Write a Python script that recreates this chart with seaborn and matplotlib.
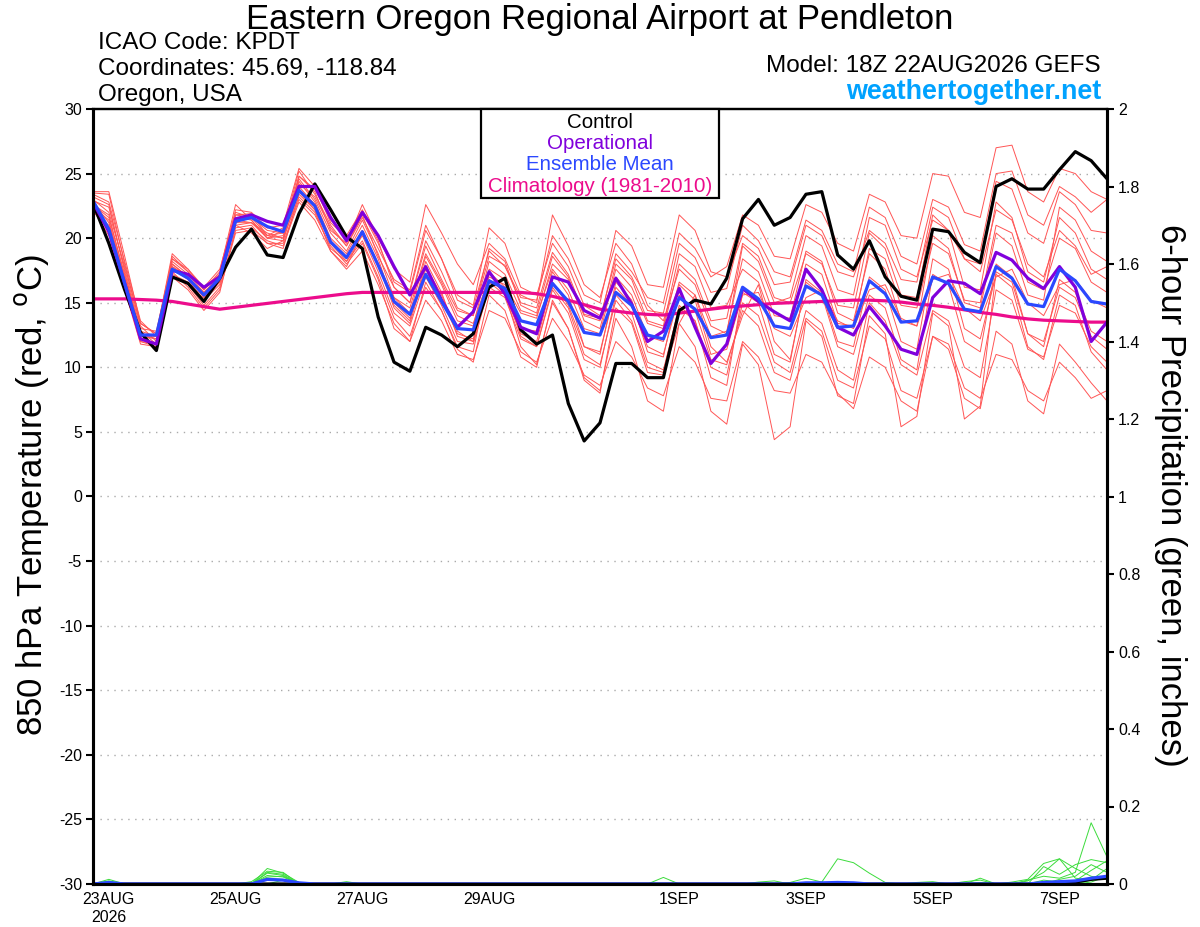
import matplotlib
matplotlib.use("Agg")
import matplotlib.pyplot as plt
import pandas as pd
import seaborn as sns

# GEFS 18Z 22AUG2026 run, 6-hourly steps out to 384 h
run_start = "2026-08-22 18:00"
n_steps = 65

control = [22.7, 19.6, 16.0, 12.7, 11.3, 17.0, 16.5, 15.1, 16.9, 19.3,
           20.7, 18.7, 18.5, 21.9, 24.2, 22.2, 20.1, 19.2, 13.9, 10.4,
           9.7, 13.1, 12.5, 11.6, 12.6, 16.2, 16.9, 12.9, 11.8, 12.5,
           7.2, 4.3, 5.7, 10.3, 10.3, 9.2, 9.2, 14.4, 15.2, 14.9,
           16.9, 21.5, 23.0, 21.0, 21.6, 23.4, 23.6, 18.7, 17.6, 19.8,
           17.0, 15.5, 15.2, 20.7, 20.5, 18.9, 18.1, 24.0, 24.6, 23.8,
           23.8, 25.3, 26.7, 26.0, 24.6]

operational = [22.8, 20.5, 16.5, 12.2, 11.8, 17.5, 17.2, 16.2, 17.0, 21.5,
               21.8, 21.3, 21.0, 24.0, 24.0, 21.6, 19.8, 22.0, 20.2, 17.8,
               15.6, 17.8, 15.2, 13.1, 14.3, 17.4, 15.7, 13.1, 12.6, 17.0,
               16.6, 14.4, 13.8, 16.9, 14.9, 12.0, 12.8, 16.1, 13.1, 10.3,
               11.8, 16.1, 15.1, 14.3, 13.6, 17.6, 16.0, 13.1, 12.5, 14.7,
               13.2, 11.4, 11.0, 15.4, 16.7, 16.5, 15.7, 18.9, 18.3, 16.9,
               16.1, 17.8, 16.2, 12.0, 13.5]

ens_mean = [22.9, 20.7, 16.5, 12.5, 12.5, 17.6, 16.9, 15.6, 16.9, 21.3,
            21.6, 20.9, 20.5, 23.7, 22.5, 19.7, 18.5, 20.5, 17.9, 15.1,
            14.1, 17.2, 15.1, 13.0, 12.9, 16.7, 16.1, 13.6, 13.3, 16.5,
            15.1, 12.7, 12.5, 15.8, 14.8, 12.5, 12.2, 15.4, 14.5, 12.3,
            12.5, 16.2, 15.3, 13.2, 13.0, 16.3, 15.6, 13.1, 13.2, 16.7,
            15.7, 13.5, 13.6, 17.0, 16.5, 14.5, 14.3, 17.8, 16.9, 14.9,
            14.7, 17.6, 16.7, 15.1, 14.9]

climatology = [15.3, 15.3, 15.3, 15.25, 15.2, 15.1, 14.9, 14.7, 14.5, 14.65,
               14.8, 14.95, 15.1, 15.25, 15.4, 15.55, 15.7, 15.8, 15.8, 15.8,
               15.8, 15.8, 15.8, 15.8, 15.8, 15.8, 15.8, 15.8, 15.7, 15.5,
               15.2, 14.85, 14.5, 14.35, 14.2, 14.1, 14.05, 14.2, 14.35, 14.5,
               14.65, 14.75, 14.85, 14.95, 15.0, 15.05, 15.1, 15.15, 15.2, 15.2,
               15.15, 15.05, 14.9, 14.8, 14.65, 14.45, 14.25, 14.1, 13.9, 13.75,
               13.65, 13.6, 13.55, 13.5, 13.5]

# individual perturbation members (thin red)
ens_members = [
    [23.5, 23.4, 18.0, 13.2, 12.0, 18.6, 17.4, 16.0, 17.4, 22.6, 21.4, 20.0, 20.6,
     25.2, 23.4, 21.0, 19.4, 21.8, 18.6, 16.2, 15.0, 19.4, 16.8, 14.4, 14.0,
     18.6, 17.9, 15.0, 14.6, 18.9, 17.2, 14.1, 13.8, 18.4, 17.0, 14.4, 14.2,
     19.6, 18.5, 15.8, 16.1, 21.0, 19.8, 17.4, 17.0, 21.4, 20.6, 18.0, 17.4,
     22.4, 21.6, 18.6, 18.0, 23.0, 22.4, 19.5, 19.0, 25.0, 25.2, 21.8, 21.0,
     24.0, 23.2, 22.0, 23.0],
    [22.2, 20.2, 16.2, 12.2, 12.4, 17.0, 16.4, 14.8, 16.2, 20.6, 20.8, 19.8, 19.4,
     22.8, 21.4, 19.0, 17.6, 19.0, 16.4, 13.4, 12.0, 15.2, 13.6, 11.0, 10.6,
     14.4, 13.8, 11.2, 10.4, 13.8, 12.0, 9.4, 8.6, 12.0, 10.8, 8.4, 7.8,
     11.6, 10.4, 7.6, 7.4, 12.0, 10.8, 8.2, 8.0, 11.0, 10.4, 8.0, 6.8,
     10.8, 10.0, 7.4, 6.6, 12.4, 11.8, 8.4, 7.6, 11.0, 10.6, 8.2, 7.4,
     10.4, 9.2, 7.6, 8.2],
    [22.6, 21.6, 17.2, 12.8, 11.8, 18.0, 17.0, 15.4, 16.6, 21.8, 21.9, 20.2, 20.0,
     24.4, 22.8, 20.0, 18.8, 21.0, 18.4, 14.8, 13.6, 18.2, 15.8, 12.4, 12.0,
     17.6, 16.8, 13.0, 12.8, 17.4, 15.6, 11.6, 11.0, 16.6, 15.2, 11.2, 10.8,
     16.4, 15.2, 11.0, 11.4, 15.6, 15.8, 13.0, 12.4, 15.4, 16.0, 13.6, 13.0,
     16.0, 16.4, 13.8, 13.2, 16.8, 17.2, 14.6, 13.6, 17.0, 17.6, 15.0, 14.0,
     16.4, 16.8, 15.2, 14.6],
    [23.0, 22.0, 17.8, 13.4, 12.6, 18.8, 17.6, 16.2, 17.2, 21.0, 20.4, 19.2, 19.8,
     24.8, 23.6, 20.6, 19.6, 22.6, 20.0, 17.6, 16.6, 22.6, 20.4, 18.0, 16.4,
     19.6, 18.4, 15.6, 15.0, 21.8, 19.4, 16.4, 15.4, 19.6, 18.0, 14.8, 13.6,
     17.6, 16.4, 13.2, 12.6, 19.4, 18.2, 15.0, 15.4, 20.2, 19.4, 16.0, 15.6,
     21.6, 21.0, 17.6, 17.0, 21.4, 20.6, 18.4, 17.4, 22.2, 21.4, 18.0, 17.0,
     20.6, 19.4, 17.2, 17.8],
    [22.4, 20.8, 16.4, 12.0, 11.6, 17.2, 16.6, 15.2, 16.4, 21.2, 21.2, 20.4, 20.0,
     23.2, 22.0, 19.2, 18.2, 19.8, 17.0, 13.8, 12.4, 16.2, 14.4, 11.4, 10.4,
     15.6, 14.4, 10.8, 10.0, 15.2, 13.0, 9.2, 8.2, 13.8, 11.6, 7.4, 6.6,
     13.4, 11.6, 6.6, 5.6, 11.8, 10.2, 4.4, 5.4, 13.6, 12.4, 7.8, 7.2,
     14.0, 12.6, 5.4, 6.2, 14.2, 13.2, 6.0, 7.0, 17.4, 16.6, 12.6, 12.0,
     16.2, 15.4, 12.4, 11.4],
    [22.8, 21.2, 17.0, 12.6, 12.2, 17.8, 17.0, 15.6, 16.8, 21.6, 21.6, 20.6, 20.4,
     23.8, 22.6, 19.8, 18.6, 20.6, 18.0, 15.4, 14.6, 18.8, 16.6, 14.0, 13.4,
     17.0, 16.4, 14.2, 13.8, 18.0, 16.8, 14.0, 13.6, 18.8, 17.4, 15.4, 15.0,
     20.4, 19.2, 17.0, 17.8, 21.8, 21.0, 18.6, 18.4, 22.6, 22.0, 19.6, 19.0,
     23.4, 22.8, 20.2, 20.0, 25.0, 24.8, 22.0, 21.6, 27.0, 27.2, 23.6, 22.8,
     25.4, 25.0, 23.6, 23.0],
    [22.0, 21.0, 16.8, 12.4, 12.2, 17.4, 16.2, 14.6, 16.0, 20.4, 20.6, 19.6, 19.2,
     23.4, 22.2, 19.6, 18.2, 20.2, 17.4, 14.2, 13.2, 17.0, 14.8, 12.0, 11.8,
     16.2, 15.4, 12.2, 11.6, 16.2, 14.6, 11.0, 10.2, 15.2, 13.6, 10.0, 9.6,
     14.8, 13.6, 10.0, 9.4, 15.0, 14.0, 10.4, 9.6, 14.4, 13.4, 9.8, 9.0,
     15.0, 13.6, 10.2, 9.4, 14.4, 13.6, 10.0, 9.2, 16.0, 15.2, 11.4, 10.8,
     14.8, 14.2, 11.6, 10.4],
    [23.2, 22.6, 17.4, 12.6, 12.4, 18.2, 17.2, 15.8, 17.0, 21.0, 21.2, 20.2, 20.4,
     24.6, 23.0, 20.4, 19.0, 21.4, 18.8, 15.4, 14.2, 18.6, 16.4, 13.6, 13.2,
     18.2, 17.2, 14.4, 14.0, 17.6, 16.0, 13.0, 12.6, 17.6, 16.2, 13.4, 13.0,
     18.0, 16.8, 13.6, 13.8, 19.6, 18.6, 15.4, 15.0, 18.8, 18.0, 14.8, 14.6,
     20.4, 19.2, 15.6, 15.4, 21.8, 20.6, 16.2, 16.0, 22.8, 21.6, 17.4, 16.6,
     21.6, 20.4, 17.6, 16.8],
    [22.4, 21.4, 16.6, 12.0, 11.8, 17.6, 16.8, 15.2, 16.6, 21.6, 21.4, 20.0, 19.8,
     23.6, 22.2, 19.0, 17.8, 20.4, 18.0, 15.0, 13.8, 17.8, 15.6, 12.8, 12.0,
     16.8, 15.8, 11.6, 10.2, 15.0, 13.0, 9.0, 8.0, 14.6, 13.4, 9.6, 9.4,
     13.4, 15.6, 11.6, 10.4, 14.0, 16.4, 12.0, 10.6, 16.6, 15.6, 11.6, 11.0,
     15.6, 14.6, 10.6, 9.8, 17.2, 16.4, 12.0, 11.2, 18.0, 17.0, 12.6, 11.6,
     16.8, 15.8, 12.8, 12.0],
    [23.6, 23.6, 18.6, 13.4, 12.6, 18.4, 17.6, 16.0, 17.2, 22.2, 22.0, 20.8, 21.0,
     25.4, 24.0, 21.2, 20.0, 22.0, 19.6, 16.6, 15.8, 20.6, 18.4, 15.6, 14.8,
     20.8, 19.6, 16.2, 15.6, 19.6, 17.8, 14.8, 14.0, 17.0, 15.6, 12.4, 12.0,
     16.6, 15.6, 12.4, 12.8, 18.4, 17.4, 14.0, 13.8, 19.0, 18.2, 14.2, 13.6,
     18.8, 17.6, 13.6, 13.2, 20.2, 19.2, 15.0, 14.6, 20.4, 19.4, 15.6, 15.2,
     22.4, 21.4, 19.0, 18.2],
    [22.6, 21.8, 17.0, 12.8, 12.4, 17.8, 17.0, 15.4, 16.8, 21.4, 21.2, 20.0, 20.2,
     24.0, 22.6, 19.8, 18.4, 20.6, 18.0, 14.6, 13.4, 17.6, 15.2, 12.6, 12.2,
     16.6, 15.6, 12.6, 12.0, 16.6, 14.8, 11.6, 11.2, 16.2, 14.8, 11.6, 11.0,
     15.6, 14.4, 10.6, 10.2, 14.4, 13.2, 9.6, 9.0, 13.8, 12.8, 9.0, 8.4,
     13.2, 12.2, 8.2, 7.6, 12.4, 11.4, 7.6, 6.8, 12.8, 11.8, 7.4, 6.4,
     11.8, 10.4, 8.8, 7.4],
    [22.9, 22.4, 17.6, 13.0, 12.8, 18.4, 17.4, 16.2, 17.6, 22.0, 21.6, 20.2, 20.8,
     24.2, 23.2, 20.8, 19.4, 21.6, 19.2, 16.8, 16.0, 21.0, 18.4, 15.2, 14.6,
     19.0, 17.8, 15.4, 15.2, 20.2, 18.4, 15.6, 15.0, 20.6, 19.4, 16.4, 16.2,
     21.8, 20.6, 17.4, 17.0, 20.2, 19.2, 16.4, 16.6, 21.0, 20.2, 17.4, 17.0,
     20.6, 19.6, 16.8, 16.6, 22.4, 21.6, 18.4, 18.0, 24.4, 23.8, 20.4, 19.6,
     23.6, 22.6, 20.6, 20.4],
    [22.2, 20.6, 16.0, 11.8, 11.6, 17.0, 16.0, 14.4, 15.8, 20.8, 21.0, 19.6, 19.6,
     23.0, 21.8, 19.4, 18.0, 19.6, 16.8, 13.0, 12.0, 16.6, 14.4, 11.6, 11.2,
     17.4, 16.2, 12.4, 11.6, 16.0, 14.2, 10.6, 10.0, 15.6, 14.2, 10.4, 9.8,
     14.6, 13.6, 9.2, 8.6, 15.8, 15.0, 11.0, 10.4, 16.8, 15.8, 12.0, 11.6,
     17.0, 16.0, 12.0, 11.4, 18.4, 17.6, 13.0, 12.2, 17.2, 16.2, 11.6, 10.6,
     15.6, 14.8, 11.2, 9.8],
    [23.4, 22.8, 18.2, 13.6, 12.4, 18.0, 17.0, 15.8, 17.0, 21.8, 21.6, 20.8, 20.6,
     24.8, 23.8, 21.4, 20.2, 22.2, 19.8, 16.2, 15.0, 19.8, 17.4, 14.6, 14.0,
     19.2, 18.2, 14.8, 14.2, 18.6, 17.0, 13.6, 13.0, 18.0, 16.8, 13.6, 13.2,
     18.8, 17.8, 14.6, 14.8, 17.6, 16.6, 13.2, 13.0, 18.0, 17.2, 13.4, 13.2,
     19.2, 18.4, 14.8, 14.6, 19.6, 18.8, 15.2, 15.0, 21.0, 20.4, 16.6, 16.0,
     20.0, 19.2, 16.6, 15.8],
]

# 6-hour precipitation, inches (green members, blue mean, black control)
precip_members = [
    [0, 0, 0, 0, 0, 0, 0, 0, 0, 0, 0, .03, .025, 0, 0, 0, 0, 0, 0, 0, 0, 0, 0, 0, 0,
     0, 0, 0, 0, 0, 0, 0, 0, 0, 0, 0, 0, 0, 0, 0, 0, 0, 0, 0, .004,
     .015, .005, .065, .055, .028, .004, 0, 0, 0, 0, 0, .004, 0, 0, 0,
     .01, .005, 0, .01, .02],
    [0, .012, 0, 0, 0, 0, 0, 0, 0, 0, 0, .04, .028, .004, 0, 0, 0, 0, 0, 0, 0, 0, 0, 0, 0,
     0, 0, 0, 0, 0, 0, 0, 0, 0, 0, 0, 0, 0, 0, 0, 0, 0, 0, 0, 0,
     0, 0, 0, 0, 0, 0, 0, 0, 0, 0, 0, 0, 0, 0, .01,
     .02, .015, .03, .158, .07],
    [0, .008, 0, 0, 0, 0, 0, 0, 0, 0, .006, .033, .03, 0, 0, 0, 0, 0, 0, 0, 0, 0, 0, 0, 0,
     0, 0, 0, 0, 0, 0, 0, 0, 0, 0, 0, .017, 0, 0, 0, 0, 0, 0, 0, 0,
     0, 0, 0, 0, 0, 0, 0, 0, 0, 0, 0, 0, 0, .005, .012,
     .053, .065, .015, .01, .04],
    [0, 0, 0, 0, 0, 0, 0, 0, 0, 0, 0, .028, .022, 0, 0, 0, .006, 0, 0, 0, 0, 0, 0, 0, 0,
     0, 0, 0, 0, 0, 0, 0, 0, 0, 0, 0, 0, 0, 0, 0, 0, 0, 0, 0, 0,
     0, 0, 0, 0, 0, 0, 0, 0, 0, 0, 0, .015, 0, 0, 0,
     .045, .025, .05, .063, .055],
    [0, 0, 0, 0, 0, 0, 0, 0, 0, 0, 0, .022, .018, 0, 0, 0, 0, 0, 0, 0, 0, 0, 0, 0, 0,
     0, 0, 0, 0, 0, 0, 0, 0, 0, 0, 0, 0, 0, 0, 0, 0, 0, 0, 0, 0,
     0, 0, 0, 0, 0, 0, 0, 0, 0, 0, 0, 0, 0, 0, .008,
     .03, .065, .04, .02, .012],
    [0, .005, 0, 0, 0, 0, 0, 0, 0, 0, 0, .015, .012, 0, 0, 0, 0, 0, 0, 0, 0, 0, 0, 0, 0,
     0, 0, 0, 0, 0, 0, 0, 0, 0, 0, 0, 0, 0, 0, 0, 0, 0, 0, 0, 0,
     0, 0, 0, 0, 0, 0, 0, 0, 0, 0, .006, .01, 0, 0, 0,
     0, .012, .02, .05, .03],
    [0, 0, 0, 0, 0, 0, 0, 0, 0, 0, 0, .018, .02, 0, 0, 0, 0, 0, 0, 0, 0, 0, 0, 0, 0,
     0, 0, 0, 0, 0, 0, 0, 0, 0, 0, 0, 0, 0, 0, 0, 0, 0, .005, .008, 0,
     0, 0, 0, 0, 0, 0, 0, 0, 0, 0, 0, 0, 0, 0, 0,
     0, 0, .008, .035, .06],
    [0, 0, 0, 0, 0, 0, 0, 0, 0, 0, 0, 0, .01, 0, 0, 0, 0, 0, 0, 0, 0, 0, 0, 0, 0,
     0, 0, 0, 0, 0, 0, 0, 0, 0, 0, 0, 0, 0, 0, 0, 0, 0, 0, 0, 0,
     0, 0, 0, 0, 0, 0, 0, .004, .006, 0, 0, 0, 0, 0, 0,
     0, 0, 0, .005, .02],
]

precip_mean = [0, .004, 0, 0, 0, 0, 0, 0, 0, 0, 0, .012, .01, .003, 0, 0, 0, 0, 0, 0, 0, 0, 0, 0, 0,
               0, 0, 0, 0, 0, 0, 0, 0, 0, 0, 0, 0, 0, 0, 0, 0, 0, 0, 0, 0,
               .003, .003, .004, .003, 0, 0, 0, 0, 0, 0, 0, 0, 0, 0, 0,
               .004, .006, .008, .015, .02]

precip_control = [0, 0, 0, 0, 0, 0, 0, 0, 0, 0, 0, 0, 0, 0, 0, 0, 0, 0, 0, 0, 0, 0, 0, 0, 0,
                  0, 0, 0, 0, 0, 0, 0, 0, 0, 0, 0, 0, 0, 0, 0, 0, 0, 0, 0, 0,
                  0, 0, 0, 0, 0, 0, 0, 0, 0, 0, 0, 0, 0, 0, 0,
                  0, 0, .005, .012, .015]

tick_days = ["2026-08-23", "2026-08-25", "2026-08-27", "2026-08-29",
             "2026-09-01", "2026-09-03", "2026-09-05", "2026-09-07"]
tick_labels = ["23AUG\n2026", "25AUG", "27AUG", "29AUG", "1SEP", "3SEP", "5SEP", "7SEP"]
temp_ticks = [30, 25, 20, 15, 10, 5, 0, -5, -10, -15, -20, -25, -30]
precip_ticks = [0, 0.2, 0.4, 0.6, 0.8, 1.0, 1.2, 1.4, 1.6, 1.8, 2.0]

c_member = "#ff5555"
c_oper = "#8000dc"
c_mean = "#2b48ff"
c_clim = "#ec0c8c"
c_green = "#3cdc3c"

sns.set_style("white")
plt.rcParams["font.family"] = ["Liberation Sans", "DejaVu Sans"]
plt.rcParams["text.color"] = "black"
plt.rcParams["axes.labelcolor"] = "black"
plt.rcParams["xtick.color"] = "black"
plt.rcParams["ytick.color"] = "black"

times = pd.date_range(run_start, periods=n_steps, freq="6h")

member_df = pd.DataFrame({
    "time": list(times) * len(ens_members),
    "temp": [v for m in ens_members for v in m],
    "member": [k for k, m in enumerate(ens_members) for _ in m],
})
precip_df = pd.DataFrame({
    "time": list(times) * len(precip_members),
    "precip": [v for m in precip_members for v in m],
    "member": [k for k, m in enumerate(precip_members) for _ in m],
})

fig = plt.figure(figsize=(12, 9.27), dpi=100)
W, H = 1200, 927
ax = fig.add_axes([93 / W, 1 - 884 / H, (1107 - 93) / W, (884 - 109) / H])

sns.lineplot(data=member_df, x="time", y="temp", units="member", estimator=None,
             color=c_member, linewidth=0.7, legend=False, ax=ax)
sns.lineplot(x=times, y=climatology, color=c_clim, linewidth=2.3, ax=ax)
sns.lineplot(x=times, y=control, color="black", linewidth=2.3, ax=ax)
sns.lineplot(x=times, y=operational, color=c_oper, linewidth=2.3, ax=ax)
sns.lineplot(x=times, y=ens_mean, color=c_mean, linewidth=2.3, ax=ax)

ax.set_xlim(times[0], times[-1])
ax.set_ylim(-30, 30)
ax.set_yticks(temp_ticks)
ax.set_yticklabels([str(t) for t in temp_ticks])
ax.set_xticks(pd.to_datetime(tick_days))
ax.set_xticklabels(tick_labels)
ax.set_xlabel("")
ax.set_ylabel("")
for y in temp_ticks[1:-1]:
    ax.axhline(y, color="#aaaaaa", linewidth=1.0, linestyle=(0, (1, 4)), zorder=0)

ax2 = ax.twinx()
sns.lineplot(data=precip_df, x="time", y="precip", units="member", estimator=None,
             color=c_green, linewidth=0.7, legend=False, ax=ax2)
sns.lineplot(x=times, y=precip_control, color="black", linewidth=2.3, ax=ax2)
sns.lineplot(x=times, y=precip_mean, color=c_mean, linewidth=2.3, ax=ax2)
ax2.set_ylim(0, 2)
ax2.set_xlim(times[0], times[-1])
ax2.set_yticks(precip_ticks)
ax2.set_yticklabels([f"{t:g}" for t in precip_ticks])
ax2.set_ylabel("")

for a in (ax, ax2):
    for side in a.spines:
        a.spines[side].set_color("black")
        a.spines[side].set_linewidth(2.2)
    a.spines["top"].set_linewidth(1.6)
    a.tick_params(axis="both", direction="out", length=5, width=1.5,
                  labelsize=11.5, colors="black")
ax.tick_params(axis="y", pad=3)
ax.tick_params(axis="x", pad=1)
ax2.tick_params(axis="y", pad=3)

# legend box
leg_x0, leg_x1 = 481 / W, 719 / W
leg_y0, leg_y1 = 1 - 198 / H, 1 - 109 / H
fig.patches.append(plt.Rectangle((leg_x0, leg_y0), leg_x1 - leg_x0, leg_y1 - leg_y0,
                                 transform=fig.transFigure, facecolor="white",
                                 edgecolor="black", linewidth=1.6, zorder=5))
for txt, col, ypx in [("Control", "black", 123), ("Operational", c_oper, 144),
                      ("Ensemble Mean", c_mean, 165),
                      ("Climatology (1981-2010)", c_clim, 187)]:
    fig.text(600 / W, 1 - ypx / H, txt, color=col, fontsize=14.8,
             ha="center", va="center", zorder=6)

fig.text(600 / W, 1 - 20 / H, "Eastern Oregon Regional Airport at Pendleton",
         fontsize=25, ha="center", va="center")
fig.text(98 / W, 1 - 43 / H, "ICAO Code: KPDT", fontsize=17.5, ha="left", va="center")
fig.text(98 / W, 1 - 69 / H, "Coordinates: 45.69, -118.84", fontsize=17.5,
         ha="left", va="center")
fig.text(98 / W, 1 - 95 / H, "Oregon, USA", fontsize=17.5, ha="left", va="center")
fig.text(1101 / W, 1 - 66 / H, "Model: 18Z 22AUG2026 GEFS", fontsize=17.5,
         ha="right", va="center")
fig.text(1101 / W, 1 - 92 / H, "weathertogether.net", fontsize=19.4, fontweight="bold",
         color="#00a2ff", ha="right", va="center")

fig.text(32 / W, 1 - 495 / H, "850 hPa Temperature (red, $^\\mathrm{o}$C)",
         fontsize=25, rotation=90, ha="center", va="center")
fig.text(1170 / W, 1 - 495 / H, "6-hour Precipitation (green, inches)",
         fontsize=25, rotation=-90, ha="center", va="center")

fig.savefig("out.png", dpi=100, facecolor="white")
